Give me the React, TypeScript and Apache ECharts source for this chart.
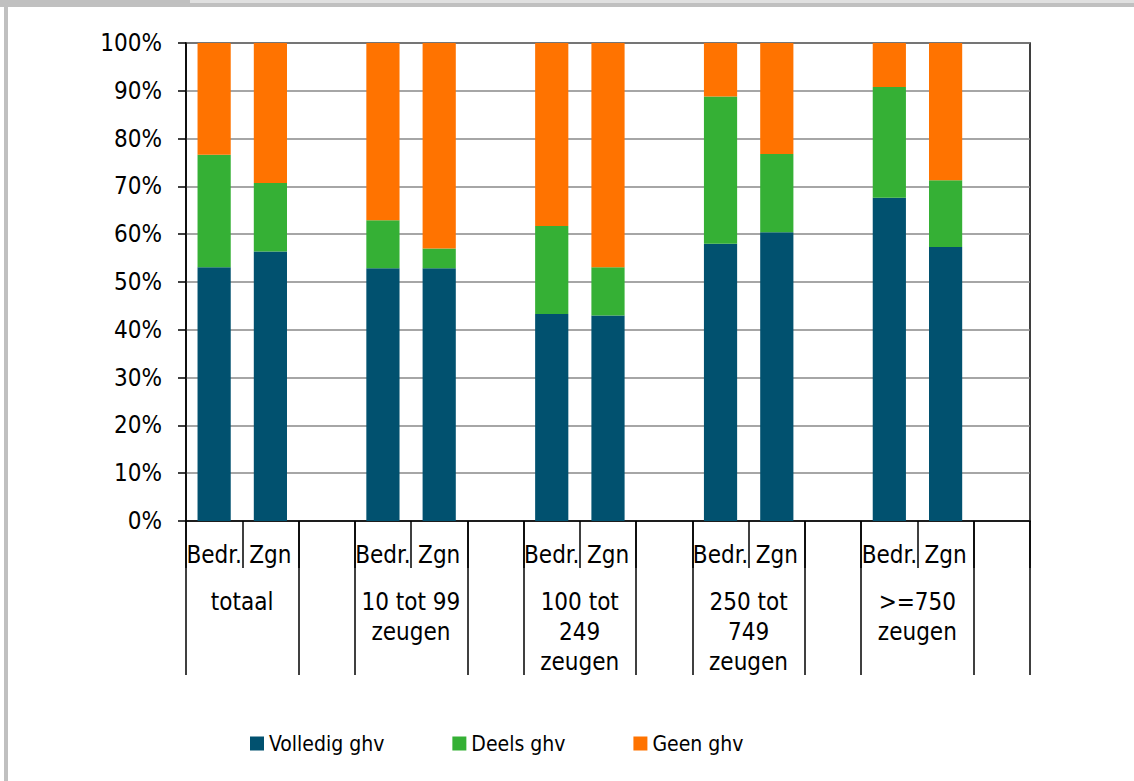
import React, { useEffect, useRef } from "react";
import * as echarts from "echarts";

const categories = [
  "Bedr.", "Zgn", "",
  "Bedr.", "Zgn", "",
  "Bedr.", "Zgn", "",
  "Bedr.", "Zgn", "",
  "Bedr.", "Zgn", "",
];
const groupLabels = [
  "totaal", "", "",
  "10 tot 99\nzeugen", "", "",
  "100 tot\n249\nzeugen", "", "",
  "250 tot\n749\nzeugen", "", "",
  ">=750\nzeugen", "", "",
];
const volledig = [53.1, 56.4, null, 52.9, 52.9, null, 43.3, 43.0, null, 58.0, 60.4, null, 67.6, 57.3, null];
const deels = [23.5, 14.3, null, 10.0, 4.1, null, 18.4, 10.1, null, 30.8, 16.4, null, 23.2, 14.0, null];
const geen = [23.4, 29.3, null, 37.1, 43.0, null, 38.3, 46.9, null, 11.2, 23.2, null, 9.2, 28.7, null];
const seriesNames = ["Volledig ghv", "Deels ghv", "Geen ghv"];
const yTicks = [0, 10, 20, 30, 40, 50, 60, 70, 80, 90, 100];

const FONT = "'Liberation Sans Narrow', 'Arial Narrow', 'DejaVu Sans Condensed', sans-serif";

export default function App() {
  const ref = useRef<HTMLDivElement>(null);
  useEffect(() => {
    if (!ref.current) return;
    const chart = echarts.init(ref.current, undefined, { renderer: "svg" });
    chart.setOption({
      animation: false,
      backgroundColor: "#ffffff",
      textStyle: { fontFamily: FONT, color: "#000" },
      graphic: [
        { type: "rect", shape: { x: 0, y: 0, width: 1134, height: 7 }, style: { fill: "#c0c0c0" }, silent: true },
        { type: "rect", shape: { x: 190, y: 0, width: 944, height: 3 }, style: { fill: "#e0e0e0" }, silent: true },
        { type: "rect", shape: { x: 4, y: 0, width: 4, height: 781 }, style: { fill: "#c0c0c0" }, silent: true },
      ],
      grid: {
        left: 186,
        right: 104,
        top: 43,
        bottom: 260,
        show: true,
        borderColor: "#000",
        borderWidth: 1.5,
        backgroundColor: "transparent",
        containLabel: false,
      },
      legend: {
        data: seriesNames,
        left: 250,
        top: 733,
        padding: 0,
        itemWidth: 14,
        itemHeight: 14,
        itemGap: 68,
        icon: "rect",
        textStyle: { fontFamily: FONT, fontSize: 21, color: "#000" },
      },
      xAxis: [
        {
          type: "category",
          data: categories,
          position: "bottom",
          axisLine: { show: true, lineStyle: { color: "#000", width: 1.5 } },
          axisTick: { show: true, interval: 0, length: 47, lineStyle: { color: "#000", width: 1.5 } },
          axisLabel: { interval: 0, margin: 19, lineHeight: 30, fontSize: 24, color: "#000", fontFamily: FONT },
          splitLine: { show: false },
        },
        {
          type: "category",
          data: groupLabels,
          position: "bottom",
          offset: 0,
          axisLine: { show: false },
          axisTick: {
            show: true,
            interval: (i: number) => i % 3 !== 1,
            length: 154,
            lineStyle: { color: "#000", width: 1.5 },
          },
          axisLabel: {
            interval: 0,
            margin: 66,
            lineHeight: 30,
            fontSize: 24,
            color: "#000",
            fontFamily: FONT,
            padding: [0, 0, 0, 56],
          },
          splitLine: { show: false },
        },
      ],
      yAxis: {
        type: "value",
        min: yTicks[0],
        max: yTicks[yTicks.length - 1],
        interval: 10,
        axisLine: { show: true, lineStyle: { color: "#000", width: 1.5 } },
        axisTick: { show: true, inside: false, length: 8, lineStyle: { color: "#000", width: 1.5 } },
        axisLabel: { formatter: "{value}%", margin: 24, fontSize: 24, color: "#000", fontFamily: FONT },
        splitLine: { show: true, lineStyle: { color: "#888", width: 1.5 } },
      },
      series: [
        { name: seriesNames[0], type: "bar", stack: "a", data: volledig, barWidth: "59%", itemStyle: { color: "#01516F" } },
        { name: seriesNames[1], type: "bar", stack: "a", data: deels, barWidth: "59%", itemStyle: { color: "#35B035" } },
        { name: seriesNames[2], type: "bar", stack: "a", data: geen, barWidth: "59%", itemStyle: { color: "#FF7300" } },
      ],
    });
    return () => chart.dispose();
  }, []);
  return (
    <div
      ref={ref}
      style={{ position: "fixed", left: 0, top: 0, width: 1134, height: 781, background: "#fff" }}
    />
  );
}
